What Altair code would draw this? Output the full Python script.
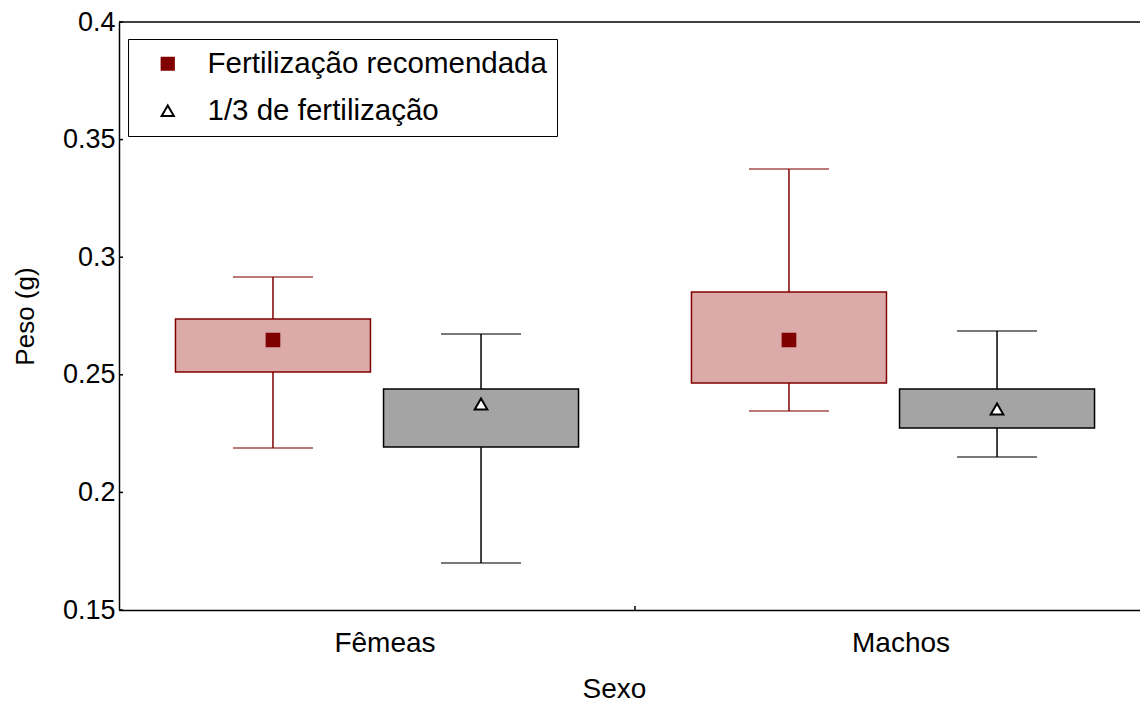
import altair as alt
import pandas as pd

# ---- data ----
sexo = ["Fêmeas", "Fêmeas", "Machos", "Machos"]
tratamento = ["Fertilização recomendada", "1/3 de fertilização",
              "Fertilização recomendada", "1/3 de fertilização"]
whisker_low = [0.2189, 0.1700, 0.2346, 0.2151]
box_low = [0.2512, 0.2193, 0.2465, 0.2274]
media = [0.2648, 0.2376, 0.2648, 0.2355]
box_high = [0.2737, 0.2440, 0.2852, 0.2440]
whisker_high = [0.2916, 0.2673, 0.3375, 0.2686]

sexo_order = ["Fêmeas", "Machos"]
trat_order = ["Fertilização recomendada", "1/3 de fertilização"]
y_ticks = [0.15, 0.2, 0.25, 0.3, 0.35, 0.4]

df = pd.DataFrame({
    "Sexo": sexo, "Tratamento": tratamento,
    "wlow": whisker_low, "blow": box_low, "mean": media,
    "bhigh": box_high, "whigh": whisker_high,
})
ticks_df = pd.DataFrame({"v": y_ticks})
one = pd.DataFrame({"a": [0]})

RED = "#800000"
FONT = "Liberation Sans"

W, H = 1021, 588
XRANGE = 1032

yscale = alt.Scale(domain=[0.15, 0.4], nice=False, zero=False)
yaxis = alt.Axis(values=y_ticks, format="~g", labelFontSize=27, labelPadding=4,
                 ticks=False, grid=False, domainColor="black", domainWidth=1.5,
                 labelColor="black", titleColor="black", titleFontSize=26,
                 titleFontWeight="normal", titlePadding=24, labelOverlap=False)
xscale = alt.Scale(domain=sexo_order, range=[0, XRANGE], paddingInner=0, paddingOuter=0)
xaxis = alt.Axis(labelAngle=0, labelFontSize=28, labelPadding=19, labelOffset=8,
                 ticks=False, grid=False, domainColor="black", domainWidth=1.5,
                 labelColor="black", titleColor="black", titleFontSize=28,
                 titleFontWeight="normal", titleX=495, titleY=87,
                 titleBaseline="alphabetic", titleAlign="center")


def Y(field):
    return alt.Y(f"{field}:Q", scale=yscale, axis=yaxis, title="Peso (g)")


def X():
    return alt.X("Sexo:N", scale=xscale, axis=xaxis, title="Sexo", sort=sexo_order)


XOFF = alt.XOffset("Tratamento:N", sort=trat_order,
                   scale=alt.Scale(domain=trat_order, paddingOuter=0.24, paddingInner=0))

is_red = "datum.Tratamento == 'Fertilização recomendada'"
line_color = alt.condition(is_red, alt.value(RED), alt.value("black"))
box_fill = alt.condition(is_red, alt.value("#ddaaaa"), alt.value("#a4a4a4"))

base = alt.Chart(df)

whiskers = base.mark_rule(strokeWidth=1.5).encode(
    x=X(), xOffset=XOFF, y=Y("wlow"), y2="whigh:Q", stroke=line_color)
cap_low = base.mark_tick(size=80, thickness=1.5).encode(
    x=X(), xOffset=XOFF, y=Y("wlow"), color=line_color)
cap_high = base.mark_tick(size=80, thickness=1.5).encode(
    x=X(), xOffset=XOFF, y=Y("whigh"), color=line_color)
boxes = base.mark_bar(width=195, strokeWidth=1.5).encode(
    x=X(), xOffset=XOFF, y=Y("blow"), y2="bhigh:Q", fill=box_fill, stroke=line_color)

points = base.mark_point(size=160, strokeWidth=2, opacity=1, filled=True).encode(
    x=X(), xOffset=XOFF, y=Y("mean"),
    shape=alt.Shape("Tratamento:N", sort=trat_order,
                    scale=alt.Scale(domain=trat_order, range=["square", "triangle-up"]),
                    legend=alt.Legend(title=None, orient="none", legendX=9, legendY=17,
                                      strokeColor="black", fillColor="white", padding=10,
                                      labelFontSize=29.5, labelFont=FONT, labelColor="black",
                                      labelLimit=700, symbolSize=150, symbolStrokeWidth=2,
                                      symbolOffset=15, labelOffset=25, rowPadding=16)),
    fill=alt.Fill("Tratamento:N", sort=trat_order,
                  scale=alt.Scale(domain=trat_order, range=[RED, "white"])),
    stroke=alt.Stroke("Tratamento:N", sort=trat_order,
                      scale=alt.Scale(domain=trat_order, range=[RED, "black"])),
)

inner_yticks = alt.Chart(ticks_df).mark_rule(color="black", strokeWidth=1.5).encode(
    y=Y("v"), x=alt.value(0), x2=alt.value(4))
sep_tick = alt.Chart(one).mark_rule(color="black", strokeWidth=1.5).encode(
    x=alt.value(XRANGE / 2), y=alt.value(H - 4), y2=alt.value(H))
top_border = alt.Chart(one).mark_rule(color="black", strokeWidth=1.5).encode(
    x=alt.value(0), x2=alt.value(XRANGE), y=alt.value(0))

chart = alt.layer(
    whiskers, cap_low, cap_high, boxes, points, inner_yticks, sep_tick, top_border
).properties(
    width=W, height=H,
    autosize=alt.AutoSizeParams(type="none"),
    padding={"left": 111, "top": 14, "right": 0, "bottom": 93},
).configure(font=FONT).configure_view(stroke=None)

chart.save("out.html", embed_options={"renderer": "svg", "actions": False})
